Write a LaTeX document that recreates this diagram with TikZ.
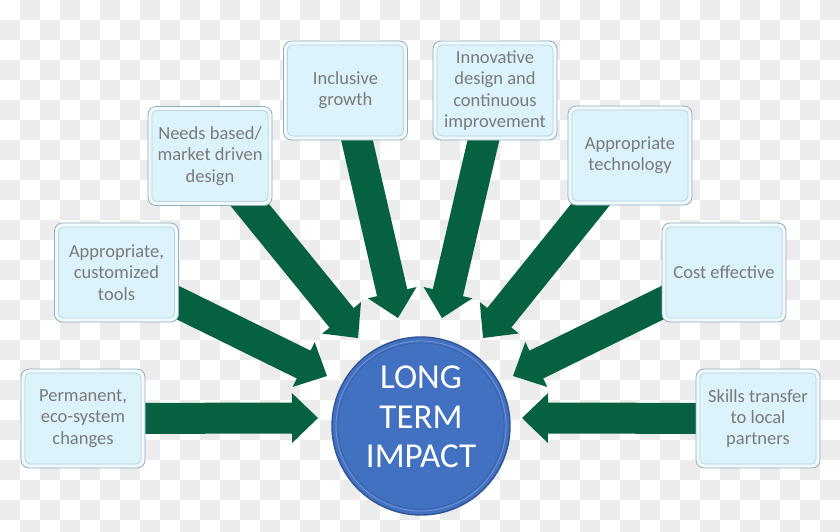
\documentclass[tikz,border=0pt]{standalone}
\usepackage{fontspec}
\setmainfont{Carlito}
\usetikzlibrary{calc}
\definecolor{arrowgreen}{RGB}{5,97,64}
\definecolor{boxfill}{RGB}{220,243,251}
\definecolor{boxedge}{RGB}{150,172,186}
\definecolor{boxtext}{RGB}{122,122,122}
\definecolor{checkgrey}{RGB}{236,236,236}
\definecolor{circfill}{RGB}{66,113,194}
\definecolor{circedge}{RGB}{47,85,151}
\pgfdeclarelayer{bg}
\pgfdeclarelayer{arrowlayer}
\pgfsetlayers{bg,arrowlayer,main}
\newcommand\blockarrow[2]{%
  \coordinate (ba-h) at ($(#2)!26pt!(#1)$);
  \fill[arrowgreen] ($(#1)!15.5pt!90:(#2)$) -- ($(ba-h)!15.5pt!90:(#2)$)
    -- ($(ba-h)!25pt!90:(#2)$) -- (#2) -- ($(ba-h)!25pt!-90:(#2)$)
    -- ($(ba-h)!15.5pt!-90:(#2)$) -- ($(#1)!15.5pt!-90:(#2)$) -- cycle;
}
\tikzset{
  infobox/.style={draw=boxedge, line width=0.8pt, fill=boxfill, rounded corners=8pt,
    minimum width=124pt, minimum height=99pt, inner sep=0pt, align=center,
    text=boxtext, font=\fontsize{18.5}{21.3}\selectfont,
    path picture={
      \draw[line width=7pt, white!55!boxfill, rounded corners=8pt]
        (path picture bounding box.south west) rectangle (path picture bounding box.north east);
      \draw[line width=0.7pt, boxedge!45!boxfill, rounded corners=5pt]
        ([shift={(4pt,4pt)}]path picture bounding box.south west) rectangle
        ([shift={(-4pt,-4pt)}]path picture bounding box.north east);
    }},
  impact/.style={circle, minimum size=178pt, inner sep=0pt, fill=circfill,
    draw=circedge, line width=1.4pt},
  impacttext/.style={text=white, align=center, font=\fontsize{35}{39.5}\selectfont}
}
\begin{document}
\begin{tikzpicture}[x=1pt,y=-1pt]
\useasboundingbox (0,0) rectangle (840,531);
\begin{pgfonlayer}{bg}
  \begin{scope}
    \clip (0,0) rectangle (840,531);
    \fill[white] (0,0) rectangle (840,531);
    \foreach \i in {0,...,41} {
      \foreach \j in {0,...,26} {
        \pgfmathtruncatemacro\chk{mod(\i+\j,2)}
        \ifnum\chk=1 \fill[checkgrey] (20*\i,20*\j) rectangle +(20,20); \fi
      }
    }
  \end{scope}
\end{pgfonlayer}

\node[infobox] (b1) at (83,418.5) {Permanent,\\eco-system\\changes};
\node[infobox] (b2) at (116.5,272.5) {Appropriate,\\customized\\tools};
\node[infobox] (b3) at (210,156) {Needs based/\\market driven\\design};
\node[infobox] (b4) at (345.5,90.5) {Inclusive\\growth};
\node[infobox] (b5) at (495,90.5) {Innovative\\design and\\continuous\\improvement};
\node[infobox] (b6) at (630,155.5) {Appropriate\\technology};
\node[infobox] (b7) at (724,272.5) {Cost effective};
\node[infobox] (b8) at (758,418.5) {Skills transfer\\to local\\partners};

\node[impact] (c) at (421,426) {};
\draw[circfill!75!white, line width=0.8pt] (c.center) circle (85pt);
\draw[circedge!60!circfill, line width=0.6pt] (c.center) circle (83pt);
\node[impacttext] (ct) at ([yshift=9pt]c.center) {LONG\\TERM\\IMPACT};

\coordinate (t1) at (318,418);
\coordinate (t2) at (327,376);
\coordinate (t3) at (358,338);
\coordinate (t4) at (398,318);
\coordinate (t5) at (442,318);
\coordinate (t6) at (483,338);
\coordinate (t7) at (513,376);
\coordinate (t8) at (522,418);

\begin{pgfonlayer}{arrowlayer}
  \blockarrow{b1.center}{t1}
  \blockarrow{b2.center}{t2}
  \blockarrow{b3.center}{t3}
  \blockarrow{b4.center}{t4}
  \blockarrow{b5.center}{t5}
  \blockarrow{b6.center}{t6}
  \blockarrow{b7.center}{t7}
  \blockarrow{b8.center}{t8}
\end{pgfonlayer}
\end{tikzpicture}
\end{document}
